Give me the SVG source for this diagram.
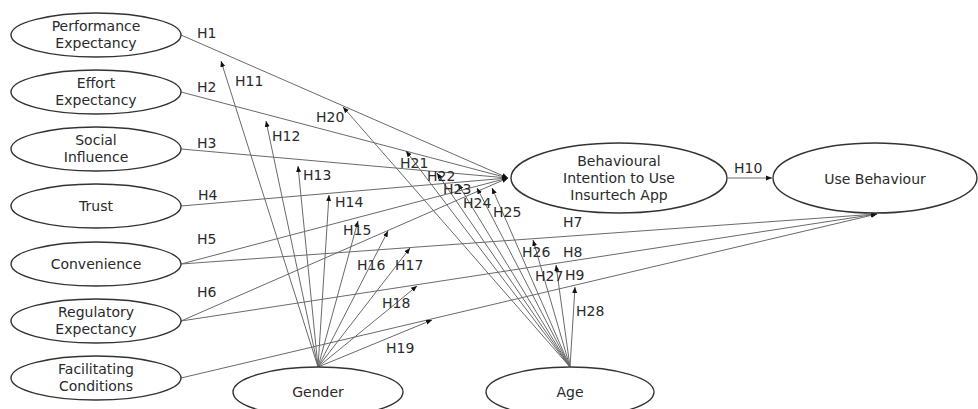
<svg xmlns="http://www.w3.org/2000/svg" width="978" height="409" viewBox="0 0 978 409">
<defs>
<marker id="ah" markerUnits="userSpaceOnUse" markerWidth="6" markerHeight="6" viewBox="0 0 6 6" refX="6" refY="3" orient="auto">
<path d="M0,0.5 L6,3 L0,5.5 Z" fill="#111"/>
</marker>
<style>
.n{fill:#fff;stroke:#333;stroke-width:1.4}
.t{font-family:"DejaVu Sans","Liberation Sans",sans-serif;font-size:14px;fill:#2a2a2a;text-anchor:middle}
.l{font-family:"DejaVu Sans","Liberation Sans",sans-serif;font-size:14px;fill:#2a2a2a}
.c line{stroke:#6a6a6a;stroke-width:1}
.a{marker-end:url(#ah)}
</style>
</defs>
<rect width="978" height="409" fill="#fff"/>
<g class="c" id="connectors">
<line class="a" x1="181" y1="35" x2="508" y2="178"/>
<line class="a" x1="181" y1="92" x2="508" y2="178"/>
<line class="a" x1="181" y1="149" x2="508" y2="178"/>
<line class="a" x1="181" y1="206" x2="508" y2="178"/>
<line class="a" x1="181" y1="264" x2="508" y2="178"/>
<line class="a" x1="181" y1="321" x2="508" y2="178"/>
<line class="a" x1="181" y1="264" x2="877" y2="214"/>
<line class="a" x1="181" y1="321" x2="877" y2="214"/>
<line class="a" x1="181" y1="378" x2="877" y2="214"/>
<line class="a" x1="728" y1="178" x2="772" y2="178"/>
<line class="a" x1="318" y1="367" x2="221" y2="61"/>
<line class="a" x1="318" y1="367" x2="266" y2="121"/>
<line class="a" x1="318" y1="367" x2="298" y2="166"/>
<line class="a" x1="318" y1="367" x2="329" y2="195"/>
<line class="a" x1="318" y1="367" x2="358" y2="221"/>
<line class="a" x1="318" y1="367" x2="388" y2="231"/>
<line class="a" x1="318" y1="367" x2="410" y2="248"/>
<line class="a" x1="318" y1="367" x2="417" y2="286"/>
<line class="a" x1="318" y1="367" x2="432" y2="320"/>
<line class="a" x1="570" y1="367" x2="343" y2="107"/>
<line class="a" x1="570" y1="367" x2="406" y2="151"/>
<line class="a" x1="570" y1="367" x2="437" y2="173"/>
<line class="a" x1="570" y1="367" x2="458" y2="184"/>
<line class="a" x1="570" y1="367" x2="477" y2="188"/>
<line class="a" x1="570" y1="367" x2="492" y2="188"/>
<line class="a" x1="570" y1="367" x2="533" y2="240"/>
<line class="a" x1="570" y1="367" x2="556" y2="265"/>
<line class="a" x1="570" y1="367" x2="575" y2="287"/>
</g>
<g id="labels">
<text class="l" x="197" y="38">H1</text>
<text class="l" x="197" y="92">H2</text>
<text class="l" x="197" y="148">H3</text>
<text class="l" x="198" y="200">H4</text>
<text class="l" x="197" y="244">H5</text>
<text class="l" x="197" y="297">H6</text>
<text class="l" x="563" y="227">H7</text>
<text class="l" x="563" y="257">H8</text>
<text class="l" x="565" y="280">H9</text>
<text class="l" x="734" y="173">H10</text>
<text class="l" x="235" y="86">H11</text>
<text class="l" x="272" y="141">H12</text>
<text class="l" x="303" y="180">H13</text>
<text class="l" x="335" y="207">H14</text>
<text class="l" x="343" y="235">H15</text>
<text class="l" x="357" y="270">H16</text>
<text class="l" x="395" y="270">H17</text>
<text class="l" x="382" y="308">H18</text>
<text class="l" x="386" y="353">H19</text>
<text class="l" x="316" y="122">H20</text>
<text class="l" x="400" y="168">H21</text>
<text class="l" x="427" y="181">H22</text>
<text class="l" x="443" y="194">H23</text>
<text class="l" x="463" y="208">H24</text>
<text class="l" x="493" y="217">H25</text>
<text class="l" x="522" y="257">H26</text>
<text class="l" x="535" y="281">H27</text>
<text class="l" x="576" y="316">H28</text>
</g>
<g id="performance-expectancy"><ellipse class="n" cx="96" cy="35" rx="85" ry="22"/><text class="t" x="96" y="31">Performance</text><text class="t" x="96" y="47.5">Expectancy</text></g>
<g id="effort-expectancy"><ellipse class="n" cx="96" cy="92" rx="85" ry="22"/><text class="t" x="96" y="88">Effort</text><text class="t" x="96" y="104.5">Expectancy</text></g>
<g id="social-influence"><ellipse class="n" cx="96" cy="149" rx="85" ry="22"/><text class="t" x="96" y="145">Social</text><text class="t" x="96" y="161.5">Influence</text></g>
<g id="trust"><ellipse class="n" cx="96" cy="206" rx="85" ry="22"/><text class="t" x="96" y="211">Trust</text></g>
<g id="convenience"><ellipse class="n" cx="96" cy="264" rx="85" ry="22"/><text class="t" x="96" y="269">Convenience</text></g>
<g id="regulatory-expectancy"><ellipse class="n" cx="96" cy="321" rx="85" ry="22"/><text class="t" x="96" y="317">Regulatory</text><text class="t" x="96" y="333.5">Expectancy</text></g>
<g id="facilitating-conditions"><ellipse class="n" cx="96" cy="378" rx="85" ry="22"/><text class="t" x="96" y="374">Facilitating</text><text class="t" x="96" y="390.5">Conditions</text></g>
<g id="behavioural-intention"><ellipse class="n" cx="619" cy="178" rx="108" ry="35"/><text class="t" x="619" y="166">Behavioural</text><text class="t" x="619" y="183">Intention to Use</text><text class="t" x="619" y="200">Insurtech App</text></g>
<g id="use-behaviour"><ellipse class="n" cx="875" cy="178" rx="102" ry="35"/><text class="t" x="875" y="184">Use Behaviour</text></g>
<g id="gender"><ellipse class="n" cx="318" cy="392" rx="85" ry="25"/><text class="t" x="318" y="397">Gender</text></g>
<g id="age"><ellipse class="n" cx="570" cy="392" rx="84" ry="25"/><text class="t" x="570" y="397">Age</text></g>
</svg>
